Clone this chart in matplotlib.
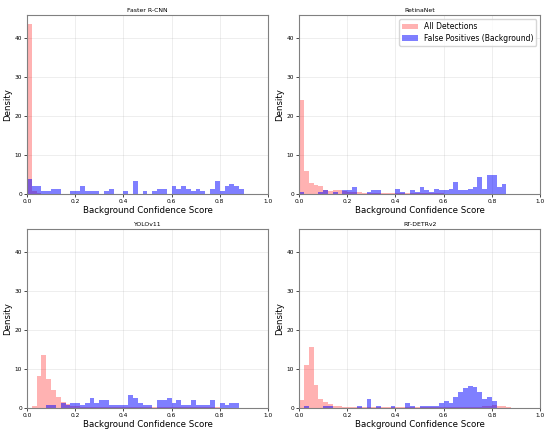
import matplotlib
matplotlib.use("Agg")
import matplotlib.pyplot as plt
import numpy as np


BIN_WIDTH = 0.02
BIN_LEFT = np.arange(50) * BIN_WIDTH

MODELS = ["Faster R-CNN", "RetinaNet", "YOLOv11", "RT-DETRv2"]

# density per 0.02-wide bin
faster_all = [43.6, 0.8, 0.3] + [0.0] * 47
faster_fp = [3.84, 1.92, 1.92, 0.64, 0.64, 1.28, 1.28, 0.0, 0.0, 0.64,
             0.64, 1.92, 0.64, 0.64, 0.64, 0.0, 0.64, 1.28, 0.0, 0.0,
             0.64, 0.0, 3.2, 0.0, 0.64, 0.0, 0.64, 1.28, 1.28, 0.0,
             1.92, 1.28, 1.92, 1.28, 0.64, 1.28, 0.64, 0.0, 1.28, 3.2,
             0.64, 1.92, 2.56, 1.92, 1.28, 0.0, 0.0, 0.0, 0.0, 0.0]

retina_all = [24.0, 5.8, 2.8, 2.2, 1.9, 0.9, 0.6, 1.0, 0.9, 0.7,
              0.5, 0.4, 0.5, 0.3, 0.2, 0.2, 0.2, 0.15, 0.15, 0.1,
              0.1, 0.1, 0.1, 0.1, 0.1, 0.1, 0.1, 0.1, 0.1, 0.1,
              0.05, 0.05, 0.05, 0.05, 0.05, 0.05, 0.05, 0.05, 0.05, 0.05,
              0.05, 0.05, 0.05, 0.0, 0.0, 0.0, 0.0, 0.0, 0.0, 0.0]
retina_fp = [0.44, 0.0, 0.0, 0.0, 0.44, 0.88, 0.0, 0.44, 0.0, 0.88,
             0.88, 1.76, 0.0, 0.0, 0.44, 0.88, 0.88, 0.0, 0.0, 0.0,
             1.32, 0.44, 0.0, 0.88, 0.44, 1.76, 0.88, 0.44, 1.32, 0.88,
             0.88, 1.32, 3.08, 0.88, 0.88, 1.32, 1.76, 4.4, 1.32, 4.84,
             4.84, 1.76, 2.64, 0.0, 0.0, 0.0, 0.0, 0.0, 0.0, 0.0]

yolo_all = [0.0, 0.6, 8.3, 13.6, 7.5, 4.6, 2.9, 1.4, 0.9, 0.6,
            0.4, 0.3, 0.3, 0.2, 0.15, 0.15, 0.15, 0.15, 0.15, 0.15,
            0.1, 0.1, 0.1, 0.1, 0.1, 0.1, 0.1, 0.1, 0.1, 0.1,
            0.1, 0.1, 0.1, 0.1, 0.1, 0.1, 0.1, 0.1, 0.1, 0.1,
            0.05, 0.0, 0.0, 0.0, 0.0, 0.0, 0.0, 0.0, 0.0, 0.0]
yolo_fp = [0.0, 0.0, 0.0, 0.0, 0.64, 0.64, 0.0, 1.28, 0.64, 1.28,
           1.28, 0.64, 1.28, 2.56, 1.28, 1.92, 1.92, 0.64, 0.64, 0.64,
           0.64, 3.2, 2.56, 1.28, 0.64, 0.64, 0.0, 1.92, 1.92, 2.56,
           1.28, 1.92, 0.64, 0.64, 1.92, 0.64, 0.64, 0.64, 1.92, 0.0,
           1.28, 0.64, 1.28, 1.28, 0.0, 0.0, 0.0, 0.0, 0.0, 0.0]

detr_all = [1.9, 11.1, 15.5, 5.9, 2.3, 1.4, 1.0, 0.6, 0.4, 0.3,
            0.2, 0.2, 0.2, 0.2, 0.2, 0.2, 0.2, 0.2, 0.2, 0.2,
            0.15, 0.15, 0.15, 0.15, 0.15, 0.15, 0.15, 0.15, 0.15, 0.15,
            0.2, 0.2, 0.2, 0.2, 0.2, 0.3, 0.3, 0.3, 0.6, 0.6,
            0.8, 0.6, 0.4, 0.2, 0.0, 0.0, 0.0, 0.0, 0.0, 0.0]
detr_fp = [0.0, 0.57, 0.0, 0.0, 0.0, 0.57, 0.57, 0.0, 0.0, 0.0,
           0.0, 0.0, 0.57, 0.0, 2.28, 0.0, 0.57, 0.0, 0.0, 0.57,
           0.0, 0.0, 1.14, 0.57, 0.0, 0.57, 0.57, 0.57, 0.57, 1.14,
           1.71, 1.14, 2.85, 4.0, 5.1, 5.7, 5.3, 4.0, 2.28, 2.85,
           1.71, 0.0, 0.0, 0.0, 0.0, 0.0, 0.0, 0.0, 0.0, 0.0]

ALL_DET = [faster_all, retina_all, yolo_all, detr_all]
FALSE_POS = [faster_fp, retina_fp, yolo_fp, detr_fp]


fig, axes = plt.subplots(2, 2, figsize=(5.5, 4.33), dpi=100, sharey=True)
fig.subplots_adjust(left=0.049, right=0.982, top=0.965, bottom=0.058,
                    wspace=0.129, hspace=0.198)

for ax, name, all_h, fp_h in zip(axes.flat, MODELS, ALL_DET, FALSE_POS):
    ax.bar(BIN_LEFT, all_h, width=BIN_WIDTH, align="edge", color="red",
           alpha=0.3, linewidth=0, label="All Detections")
    ax.bar(BIN_LEFT, fp_h, width=BIN_WIDTH, align="edge", color="blue",
           alpha=0.5, linewidth=0, label="False Positives (Background)")
    ax.set_title(name, fontsize=4.4, pad=2)
    ax.set_xlabel("Background Confidence Score", fontsize=6.2, labelpad=1.5)
    ax.set_ylabel("Density", fontsize=6.2, labelpad=2)
    ax.yaxis.set_tick_params(labelleft=True)
    ax.set_xlim(0, 1)
    ax.set_ylim(0, 45.8)
    ax.set_xticks([0, 0.2, 0.4, 0.6, 0.8, 1.0])
    ax.set_yticks([0, 10, 20, 30, 40])
    ax.tick_params(labelsize=4.2, length=2, width=0.5, pad=1.5)
    ax.grid(True, alpha=0.3, linewidth=0.5)
    ax.set_axisbelow(True)
    for spine in ax.spines.values():
        spine.set_color("0.5")
        spine.set_linewidth(0.8)

axes[0, 1].legend(loc="upper right", fontsize=5.5, frameon=True,
                  handlelength=2.0, borderpad=0.4, labelspacing=0.35)

fig.savefig("out.png", dpi=100)
